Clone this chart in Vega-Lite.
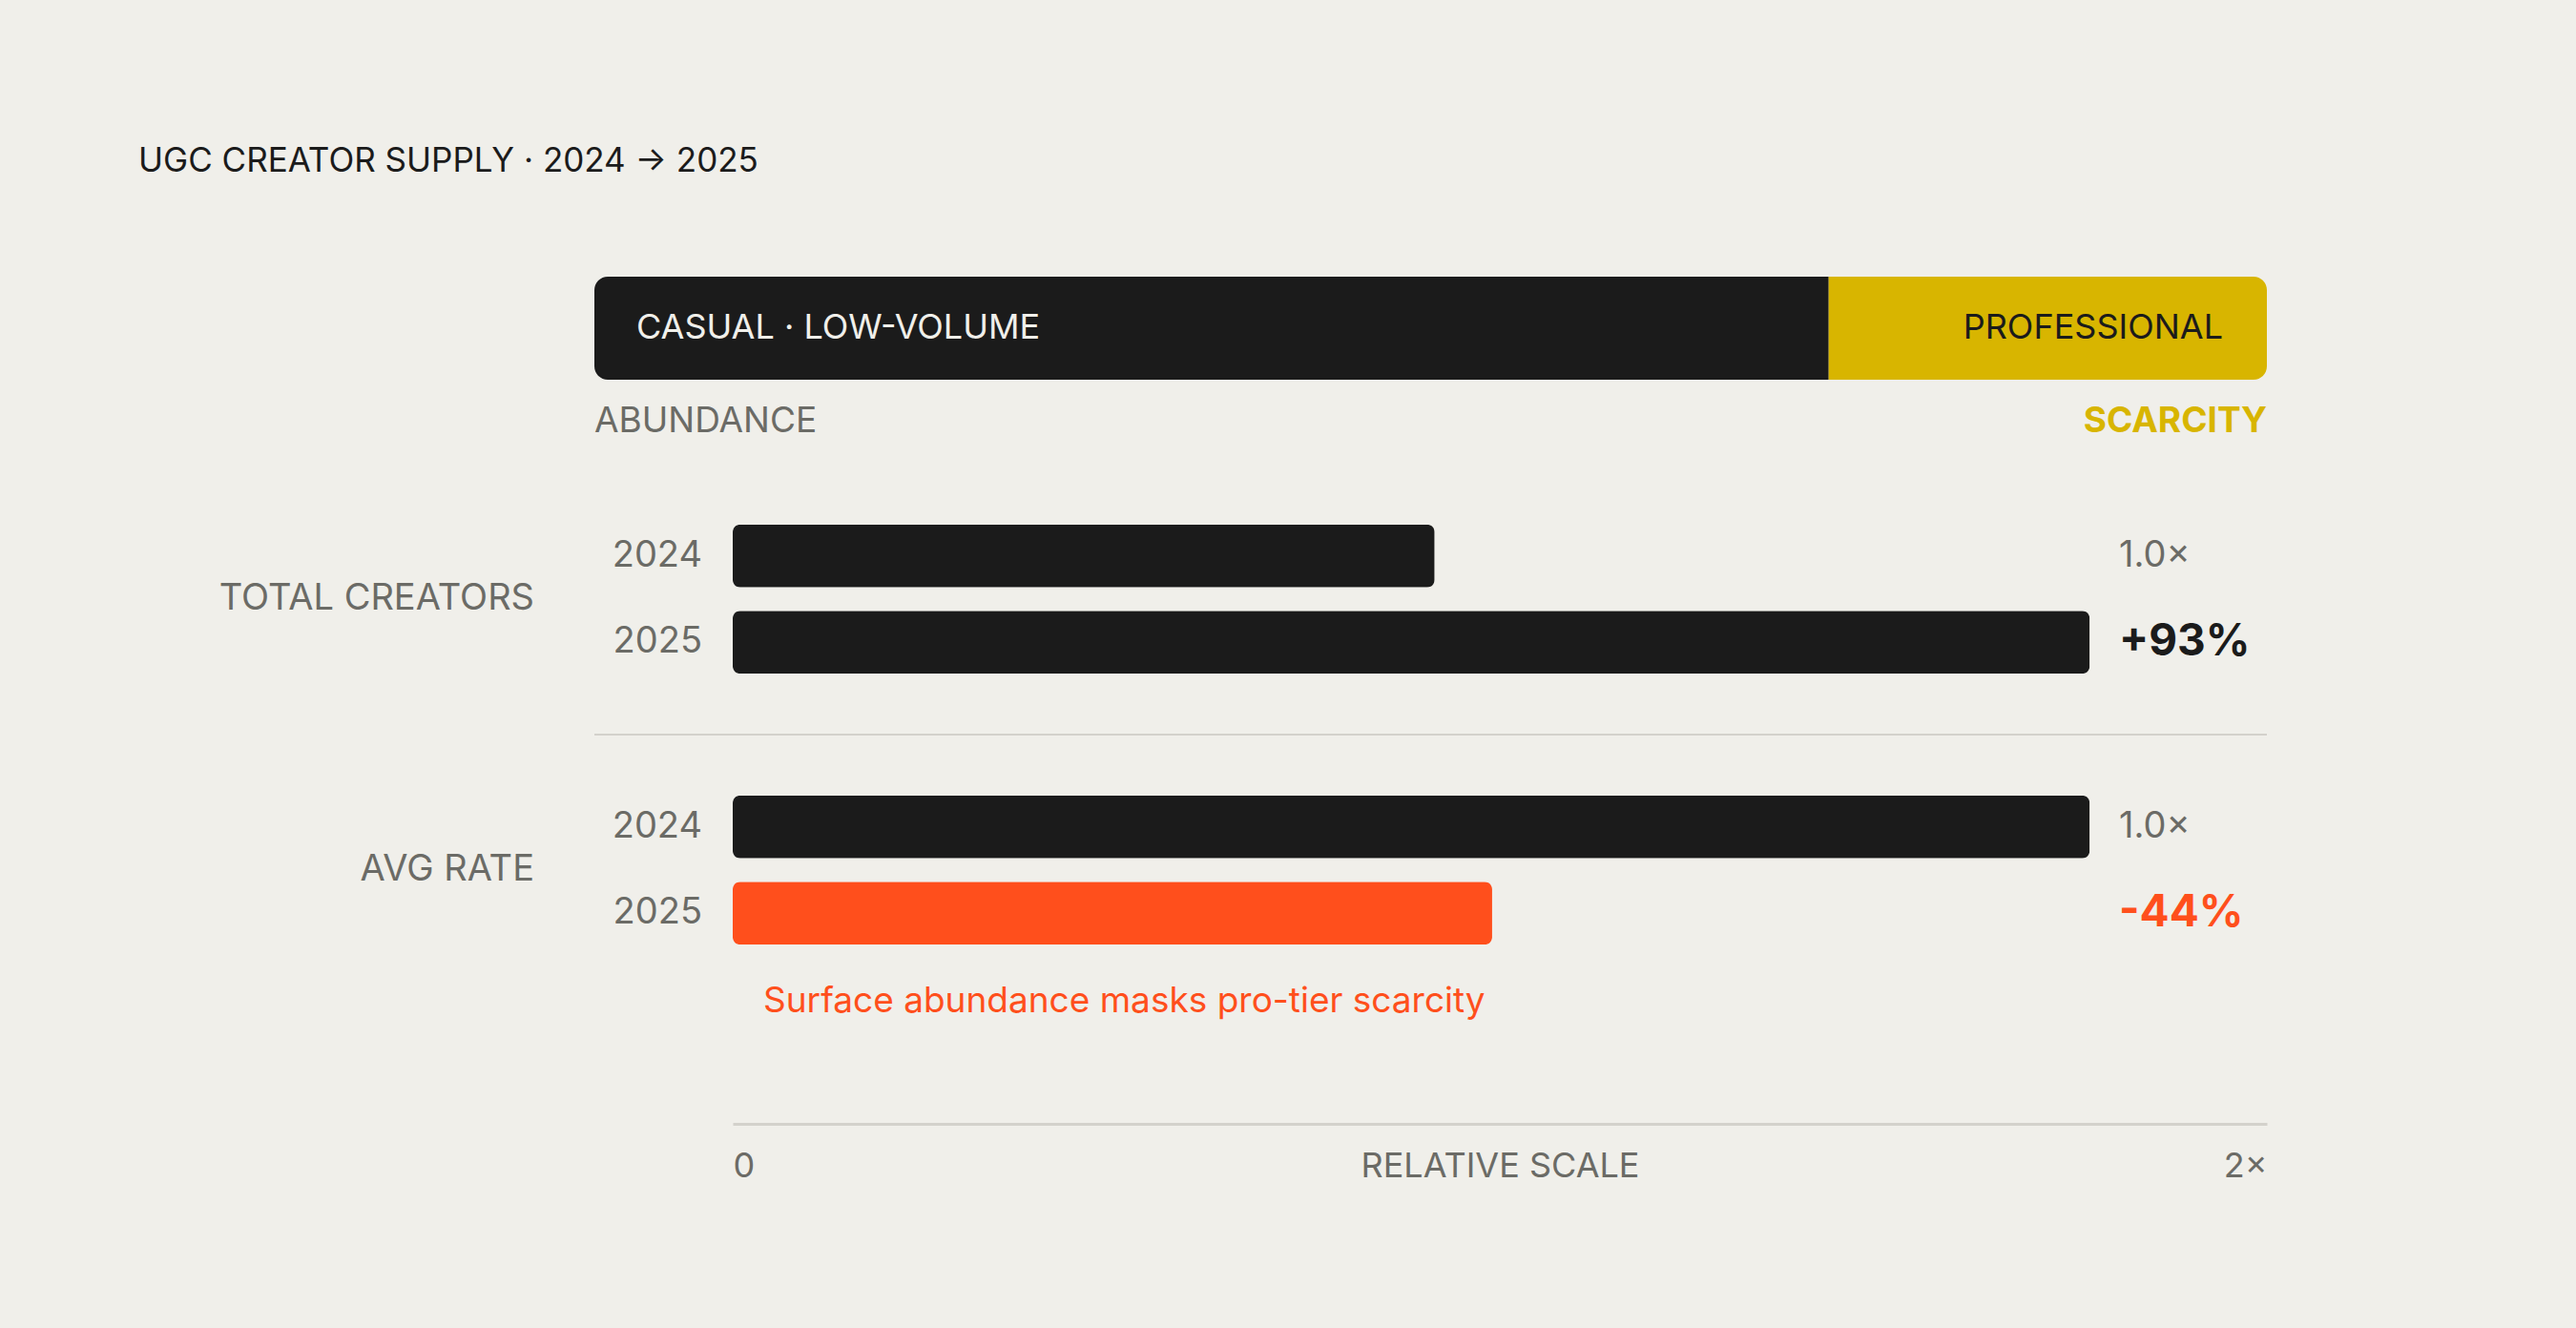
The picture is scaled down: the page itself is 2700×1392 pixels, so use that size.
{
  "$schema": "https://vega.github.io/schema/vega-lite/v6.json",
  "width": 1608,
  "height": 852,
  "autosize": {"type": "none"},
  "padding": {"left": 768, "top": 202, "right": 324, "bottom": 338},
  "background": "#f0efea",
  "title": {
    "text": "UGC CREATOR SUPPLY · 2024 → 2025",
    "anchor": "start",
    "frame": "group",
    "dx": -623,
    "dy": 36,
    "offset": 23,
    "baseline": "alphabetic",
    "font": "Inter",
    "fontSize": 35,
    "fontWeight": 400,
    "color": "#1b1b1b"
  },
  "config": {
    "view": {"stroke": null},
    "font": "Inter"
  },
  "datasets": {
    "spectrum": [
      {"segment": "CASUAL · LOW-VOLUME", "pole": "ABUNDANCE", "start": 0, "end": 0.738},
      {"segment": "PROFESSIONAL", "pole": "SCARCITY", "start": 0.738, "end": 1}
    ],
    "bars": [
      {"metric": "TOTAL CREATORS", "year": "2024", "value": 0.915, "label": "1.0×", "change": "baseline"},
      {"metric": "TOTAL CREATORS", "year": "2025", "value": 1.769, "label": "+93%", "change": "increase"},
      {"metric": "AVG RATE", "year": "2024", "value": 1.769, "label": "1.0×", "change": "baseline"},
      {"metric": "AVG RATE", "year": "2025", "value": 0.99, "label": "-44%", "change": "decrease"}
    ],
    "notes": [
      {"metric": "AVG RATE", "year": "2025", "note": "Surface abundance masks pro-tier scarcity"}
    ]
  },
  "resolve": {"scale": {"x": "independent"}, "axis": {"x": "independent"}},
  "layer": [
    {
      "data": {"name": "spectrum"},
      "encoding": {
        "y": {"datum": "SPECTRUM", "type": "nominal", "axis": null,
              "scale": {"domain": ["SPECTRUM", "TOTAL CREATORS", "AVG RATE"], "paddingInner": 0.3627, "paddingOuter": 0.18135}}
      },
      "layer": [
        {
          "mark": {
            "type": "bar",
            "height": 108,
            "cornerRadiusTopLeft": {"expr": "datum.start == 0 ? 14 : 0"},
            "cornerRadiusBottomLeft": {"expr": "datum.start == 0 ? 14 : 0"},
            "cornerRadiusTopRight": {"expr": "datum.end == 1 ? 14 : 0"},
            "cornerRadiusBottomRight": {"expr": "datum.end == 1 ? 14 : 0"}
          },
          "encoding": {
            "x": {"field": "start", "type": "quantitative", "axis": null,
                  "scale": {"domain": [0, 1], "range": [-145, 1608], "nice": false, "zero": false}},
            "x2": {"field": "end"},
            "color": {
              "condition": {"test": "datum.start == 0", "value": "#1b1b1b"},
              "value": "#d8b500"
            }
          }
        },
        {
          "transform": [{"filter": "datum.start == 0"}],
          "mark": {"type": "text", "align": "left", "baseline": "middle", "dx": 44, "fontSize": 36, "color": "#f0efea", "font": "Inter"},
          "encoding": {
            "x": {"field": "start", "type": "quantitative"},
            "text": {"field": "segment"}
          }
        },
        {
          "transform": [{"filter": "datum.start == 0"}],
          "mark": {"type": "text", "align": "left", "baseline": "alphabetic", "dy": 109, "fontSize": 37, "color": "#6b6b66", "font": "Inter"},
          "encoding": {
            "x": {"field": "start", "type": "quantitative"},
            "text": {"field": "pole"}
          }
        },
        {
          "transform": [{"filter": "datum.end == 1"}],
          "mark": {"type": "text", "align": "right", "baseline": "middle", "dx": -46, "fontSize": 36, "color": "#1b1b1b", "font": "Inter"},
          "encoding": {
            "x": {"field": "end", "type": "quantitative"},
            "text": {"field": "segment"}
          }
        },
        {
          "transform": [{"filter": "datum.end == 1"}],
          "mark": {"type": "text", "align": "right", "baseline": "alphabetic", "dy": 109, "fontSize": 37, "fontWeight": 700, "color": "#d8b500", "font": "Inter"},
          "encoding": {
            "x": {"field": "end", "type": "quantitative"},
            "text": {"field": "pole"}
          }
        },
        {
          "transform": [{"filter": "datum.start == 0"}],
          "mark": {"type": "rule", "color": "#d3d1cb", "strokeWidth": 2, "yOffset": 426},
          "encoding": {
            "x": {"datum": 0, "type": "quantitative"},
            "x2": {"datum": 1}
          }
        }
      ]
    },
    {
      "data": {"name": "bars"},
      "encoding": {
        "y": {"field": "metric", "type": "nominal", "axis": null,
              "scale": {"domain": ["SPECTRUM", "TOTAL CREATORS", "AVG RATE"], "paddingInner": 0.3627, "paddingOuter": 0.18135}}
      },
      "layer": [
        {
          "mark": {"type": "bar", "cornerRadius": 8},
          "encoding": {
            "x": {"field": "value", "type": "quantitative",
                  "scale": {"domain": [0, 2], "nice": false, "zero": true},
                  "axis": {
                    "orient": "bottom",
                    "values": [0, 2],
                    "labelExpr": "datum.value == 0 ? '0' : '2×'",
                    "labelFlush": true,
                    "labelFont": "Inter",
                    "labelFontSize": 36,
                    "labelColor": "#6b6b66",
                    "labelBaseline": "alphabetic",
                    "labelPadding": 55,
                    "ticks": false,
                    "tickSize": 0,
                    "grid": false,
                    "domainColor": "#d3d1cb",
                    "domainWidth": 3,
                    "offset": 124,
                    "title": "RELATIVE SCALE",
                    "titleFont": "Inter",
                    "titleFontSize": 36,
                    "titleFontWeight": 400,
                    "titleColor": "#6b6b66",
                    "titleBaseline": "alphabetic",
                    "titleAnchor": "middle",
                    "titleY": 55
                  }},
            "yOffset": {"field": "year", "type": "nominal",
                        "scale": {"paddingInner": 0.2707, "paddingOuter": 0.1354}},
            "color": {
              "condition": {"test": "datum.change == 'decrease'", "value": "#ff4f1c"},
              "value": "#1b1b1b"
            }
          }
        },
        {
          "mark": {"type": "text", "align": "right", "baseline": "middle", "dx": -32, "fontSize": 38, "color": "#6b6b66", "font": "Inter"},
          "encoding": {
            "x": {"datum": 0, "type": "quantitative"},
            "yOffset": {"field": "year", "type": "nominal"},
            "text": {"field": "year"}
          }
        },
        {
          "mark": {
            "type": "text", "align": "left", "baseline": "middle", "dx": -155, "font": "Inter",
            "fontSize": {"expr": "datum.change == 'baseline' ? 38 : 46"},
            "fontWeight": {"expr": "datum.change == 'baseline' ? 400 : 700"}
          },
          "encoding": {
            "x": {"datum": 2, "type": "quantitative"},
            "yOffset": {"field": "year", "type": "nominal"},
            "text": {"field": "label"},
            "color": {
              "condition": [
                {"test": "datum.change == 'decrease'", "value": "#ff4f1c"},
                {"test": "datum.change == 'increase'", "value": "#1b1b1b"}
              ],
              "value": "#6b6b66"
            }
          }
        },
        {
          "transform": [{"filter": "datum.year == '2024'"}],
          "mark": {"type": "text", "align": "right", "baseline": "middle", "dx": -208, "fontSize": 38, "color": "#6b6b66", "font": "Inter"},
          "encoding": {
            "x": {"datum": 0, "type": "quantitative"},
            "text": {"field": "metric"}
          }
        }
      ]
    },
    {
      "data": {"name": "notes"},
      "mark": {"type": "text", "align": "left", "baseline": "middle", "dx": 32, "dy": 93, "fontSize": 37, "color": "#ff4f1c", "font": "Inter"},
      "encoding": {
        "x": {"datum": 0, "type": "quantitative", "scale": {"domain": [0, 2], "nice": false}, "axis": null},
        "y": {"field": "metric", "type": "nominal", "axis": null},
        "yOffset": {"field": "year", "type": "nominal", "scale": {"domain": ["2024", "2025"], "paddingInner": 0.2707, "paddingOuter": 0.1354}},
        "text": {"field": "note"}
      }
    }
  ]
}
